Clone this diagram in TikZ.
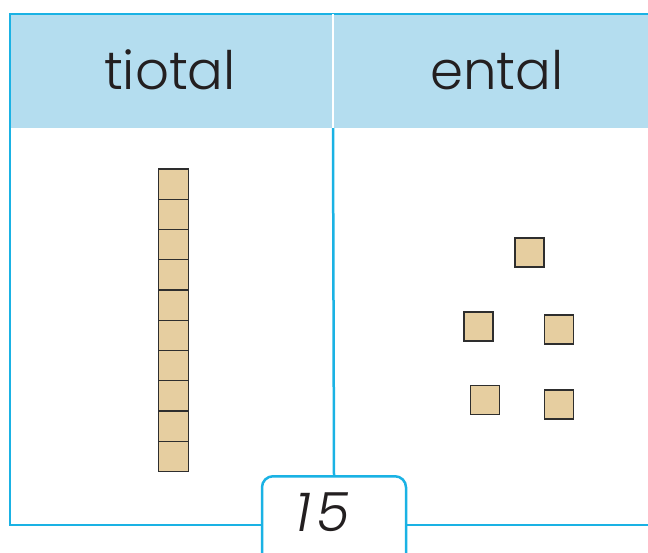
\documentclass[tikz,border=0pt]{standalone}
\usepackage{fontspec}
\setmainfont{Poppins}[UprightFont=* Light, ItalicFont=* Light Italic]
\definecolor{frameblue}{HTML}{1AB2E4}
\definecolor{headblue}{HTML}{B4DDEF}
\definecolor{cubefill}{HTML}{E6CEA0}
\definecolor{cubeline}{HTML}{2E2E2E}
\definecolor{ink}{HTML}{231F20}
\begin{document}
\begin{tikzpicture}[x=1pt,y=-1pt,
  frame/.style={draw=frameblue,line width=2.5pt},
  cube/.style={draw=cubeline,fill=cubefill,line width=1.3pt,minimum size=29pt,inner sep=0pt,outer sep=0pt},
  rodcube/.style={draw=cubeline,fill=cubefill,line width=1.3pt,minimum width=30pt,minimum height=30.2pt,inner sep=0pt,outer sep=0pt},
  headtext/.style={font=\fontsize{53}{60}\selectfont,text=ink,inner sep=0pt},
  totalbox/.style={frame,fill=white,rounded corners=11pt,minimum width=144pt,minimum height=95pt,inner sep=0pt}]
\useasboundingbox (0,0) rectangle (648,552);
\clip (0,0) rectangle (648,552);
% header band
\fill[headblue] (10,14) rectangle (660,128);
% frame
\draw[frame] (660,14) -- (10,14) -- (10,525) -- (660,525);
% column divider
\draw[white,line width=2pt] (333,14) -- (333,128);
\coordinate (divtop) at (333,128);
% header texts
\node[headtext] (h1) at (170,70) {tiotal};
\node[headtext] (h2) at (497,70) {ental};
% tens rod
\foreach \i in {0,...,9} {
  \node[rodcube] (r\i) at (173.2,{184.1+30.25*\i}) {};
}
% ones
\node[cube] (u1) at (529.5,252.5) {};
\node[cube] (u2) at (478.5,326.5) {};
\node[cube] (u3) at (559,329.5) {};
\node[cube] (u4) at (485,400) {};
\node[cube] (u5) at (559,404.5) {};
% total box
\node[totalbox,anchor=north] (box) at (334,475) {};
\draw[frame] (divtop) -- (box.north);
\node[font=\itshape\fontsize{54}{58}\selectfont,text=ink,inner sep=0pt] (num) at (323,512) {1\kern5pt 5};
\end{tikzpicture}
\end{document}
